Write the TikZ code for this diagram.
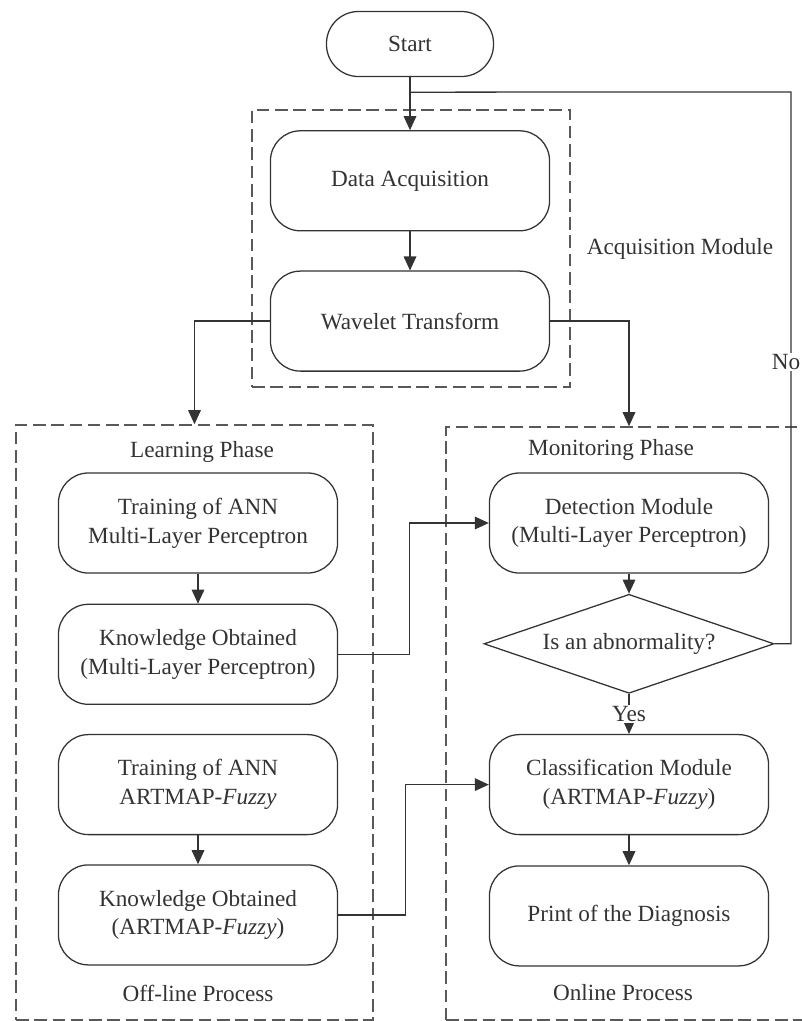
\documentclass[tikz,border=0pt]{standalone}
\usepackage{fontspec}
\setmainfont{Liberation Serif}
\usetikzlibrary{positioning,arrows.meta,shapes.geometric}

\begin{document}
\begin{tikzpicture}[
	x=0.025cm, y=-0.025cm,
	font=\fontsize{16.5}{20.5}\selectfont,
	every node/.style={text=black!80},
	stepbox/.style={draw=black!80, line width=0.9pt, rounded corners=0.75cm, minimum width=6.975cm, minimum height=2.5cm, align=center},
	startbox/.style={draw=black!80, line width=0.9pt, rounded corners=0.8cm, minimum width=4.175cm, minimum height=1.625cm},
	decision/.style={draw=black!80, line width=0.9pt, diamond, aspect=2.93, inner sep=0pt, minimum width=7.25cm, minimum height=2.475cm},
	phase/.style={draw=black!65, line width=1pt, dash pattern=on 9pt off 4pt},
	flow/.style={draw=black!80, line width=0.9pt},
	flow arrow/.style={flow, -{Triangle[length=10pt,width=9pt]}},
	]

	\useasboundingbox (0,0) rectangle (802,1021);
	\clip (0,0) rectangle (802,1021);

	\node[phase, minimum width=7.95cm, minimum height=6.925cm] (acqbox) at (411,248.5) {};
	\node[phase, minimum width=8.925cm, minimum height=14.875cm] (learn) at (194.5,722.5) {};
	\node[phase, minimum width=10cm, minimum height=14.825cm] (mon) at (646,723.5) {};

	\node at (680,249) {Acquisition Module};
	\node at (202,452) {Learning Phase};
	\node at (198,993) {Off-line Process};
	\node at (611,450) {Monitoring Phase};
	\node at (623,993) {Online Process};

	\node[startbox] (start) at (410,44) {Start};
	\node[stepbox, below=1.325cm of start] (acq) {Data Acquisition};
	\node[stepbox, below=0.975cm of acq] (wav) {Wavelet Transform};

	\node[stepbox] (trainmlp) at (198,523) {Training of ANN\\Multi-Layer Perceptron};
	\node[stepbox, below=0.75cm of trainmlp] (knowmlp) {Knowledge Obtained\\(Multi-Layer Perceptron)};
	\node[stepbox, below=0.725cm of knowmlp] (trainart) {Training of ANN\\ARTMAP-\textit{Fuzzy}};
	\node[stepbox, below=0.725cm of trainart] (knowart) {Knowledge Obtained\\(ARTMAP-\textit{Fuzzy})};

	\node[stepbox] (detect) at (629,523) {Detection Module\\(Multi-Layer Perceptron)};
	\node[decision, below=0.5cm of detect] (dia) {Is an abnormality?};
	\node[stepbox, below=1cm of dia] (classify) {Classification Module\\(ARTMAP-\textit{Fuzzy})};
	\node[stepbox, below=0.75cm of classify] (print) {Print of the Diagnosis};

	\coordinate[below=0.375cm of start] (join);
	\coordinate (turn) at (791,92);

	\draw[flow arrow] (start) -- (acq);
	\draw[flow arrow] (acq) -- (wav);
	\draw[flow arrow] (wav.west) -| (learn.north);
	\draw[flow arrow] (wav.east) -| (detect |- mon.north);
	\draw[flow arrow] (trainmlp) -- (knowmlp);
	\draw[flow arrow] (trainart) -- (knowart);
	\draw[flow arrow] (knowmlp.east) -- ++(71,0) |- (detect.west);
	\draw[flow arrow] (knowart.east) -- ++(67,0) |- (classify.west);
	\draw[flow arrow] (detect) -- (dia);
	\draw[flow arrow] (dia.south) -- node[fill=white, inner sep=1pt] {Yes} (classify.north);
	\draw[flow arrow] (classify) -- (print);
	\draw[flow] (dia.east) -| node[pos=0.755, fill=white, inner sep=1pt, xshift=-3.5pt] {No} (turn) -- (join);

\end{tikzpicture}
\end{document}
